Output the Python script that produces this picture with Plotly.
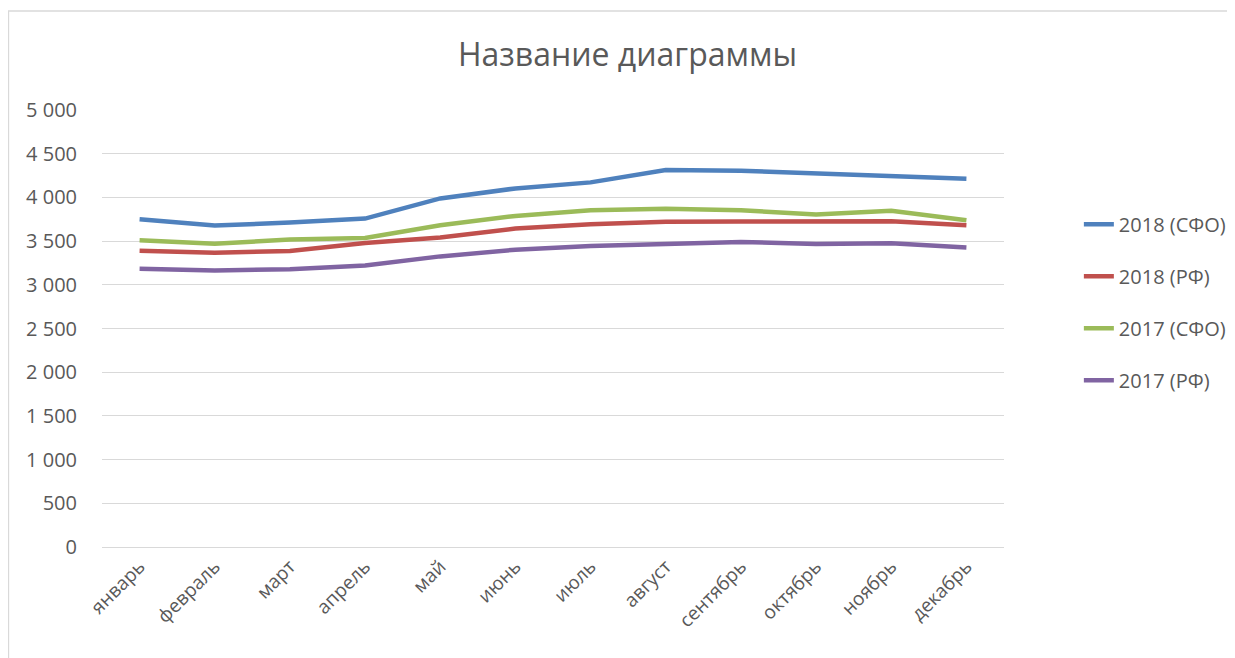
import plotly.graph_objects as go

months = ["январь", "февраль", "март", "апрель", "май", "июнь", "июль",
          "август", "сентябрь", "октябрь", "ноябрь", "декабрь"]
s2018_sfo = [3750, 3678, 3712, 3758, 3988, 4103, 4172, 4314, 4306, 4276, 4249, 4214]
s2018_rf = [3390, 3367, 3386, 3478, 3540, 3643, 3693, 3720, 3724, 3724, 3728, 3681]
s2017_sfo = [3509, 3471, 3517, 3536, 3681, 3788, 3854, 3869, 3854, 3804, 3846, 3739]
s2017_rf = [3183, 3164, 3179, 3221, 3325, 3402, 3443, 3471, 3490, 3467, 3475, 3428]
series_names = ["2018 (СФО)", "2018 (РФ)", "2017 (СФО)", "2017 (РФ)"]
colors = ["#4F81BD", "#C0504D", "#9BBB59", "#8064A2"]
y_ticks = [0, 500, 1000, 1500, 2000, 2500, 3000, 3500, 4000, 4500, 5000]

fig = go.Figure()
for i, (name, vals) in enumerate(zip(series_names, [s2018_sfo, s2018_rf, s2017_sfo, s2017_rf])):
    fig.add_trace(go.Scatter(
        x=months, y=vals, name=name, mode="lines",
        line=dict(color=colors[i], width=4.5),
        legendgroup=f"g{i}",
    ))

font_family = "Open Sans, Liberation Sans, sans-serif"
L, R, T, B = 94, 1000, 102, 539
PW, PH = R - L, B - T
fig.update_layout(
    width=1235, height=658,
    paper_bgcolor="white", plot_bgcolor="white",
    separators=". ",
    margin=dict(l=L, r=1235 - R, t=T, b=658 - B),
    title=dict(text="Название диаграммы", x=0.5016, xanchor="center",
               y=0.929, yanchor="middle",
               font=dict(family=font_family, size=32, color="#595959")),
    font=dict(family=font_family, size=19, color="#595959"),
    showlegend=True,
    legend=dict(x=1.083, xanchor="left", y=0.783, yanchor="top",
                font=dict(size=20, color="#595959"),
                tracegroupgap=23, bgcolor="rgba(0,0,0,0)"),
    xaxis=dict(type="category", range=[-0.5, 11.5], tickangle=-45,
               showgrid=False, showline=True, linecolor="#D9D9D9", linewidth=1,
               ticks="", tickfont=dict(size=19, color="#595959")),
    yaxis=dict(range=[0, 5000], tickvals=y_ticks, tickformat=",d",
               showgrid=True, gridcolor="#D9D9D9", gridwidth=1,
               zeroline=False, showline=False, ticks="",
               ticklabelstandoff=24,
               tickfont=dict(size=20, color="#595959")),
    shapes=[dict(type="rect", xref="paper", yref="paper",
                 x0=(0 - L) / PW, x1=(1300 - L) / PW,
                 y0=(B - 720) / PH, y1=(B - 3) / PH,
                 line=dict(color="#D9D9D9", width=1.5), layer="below")],
)

fig.write_html("out.html")
